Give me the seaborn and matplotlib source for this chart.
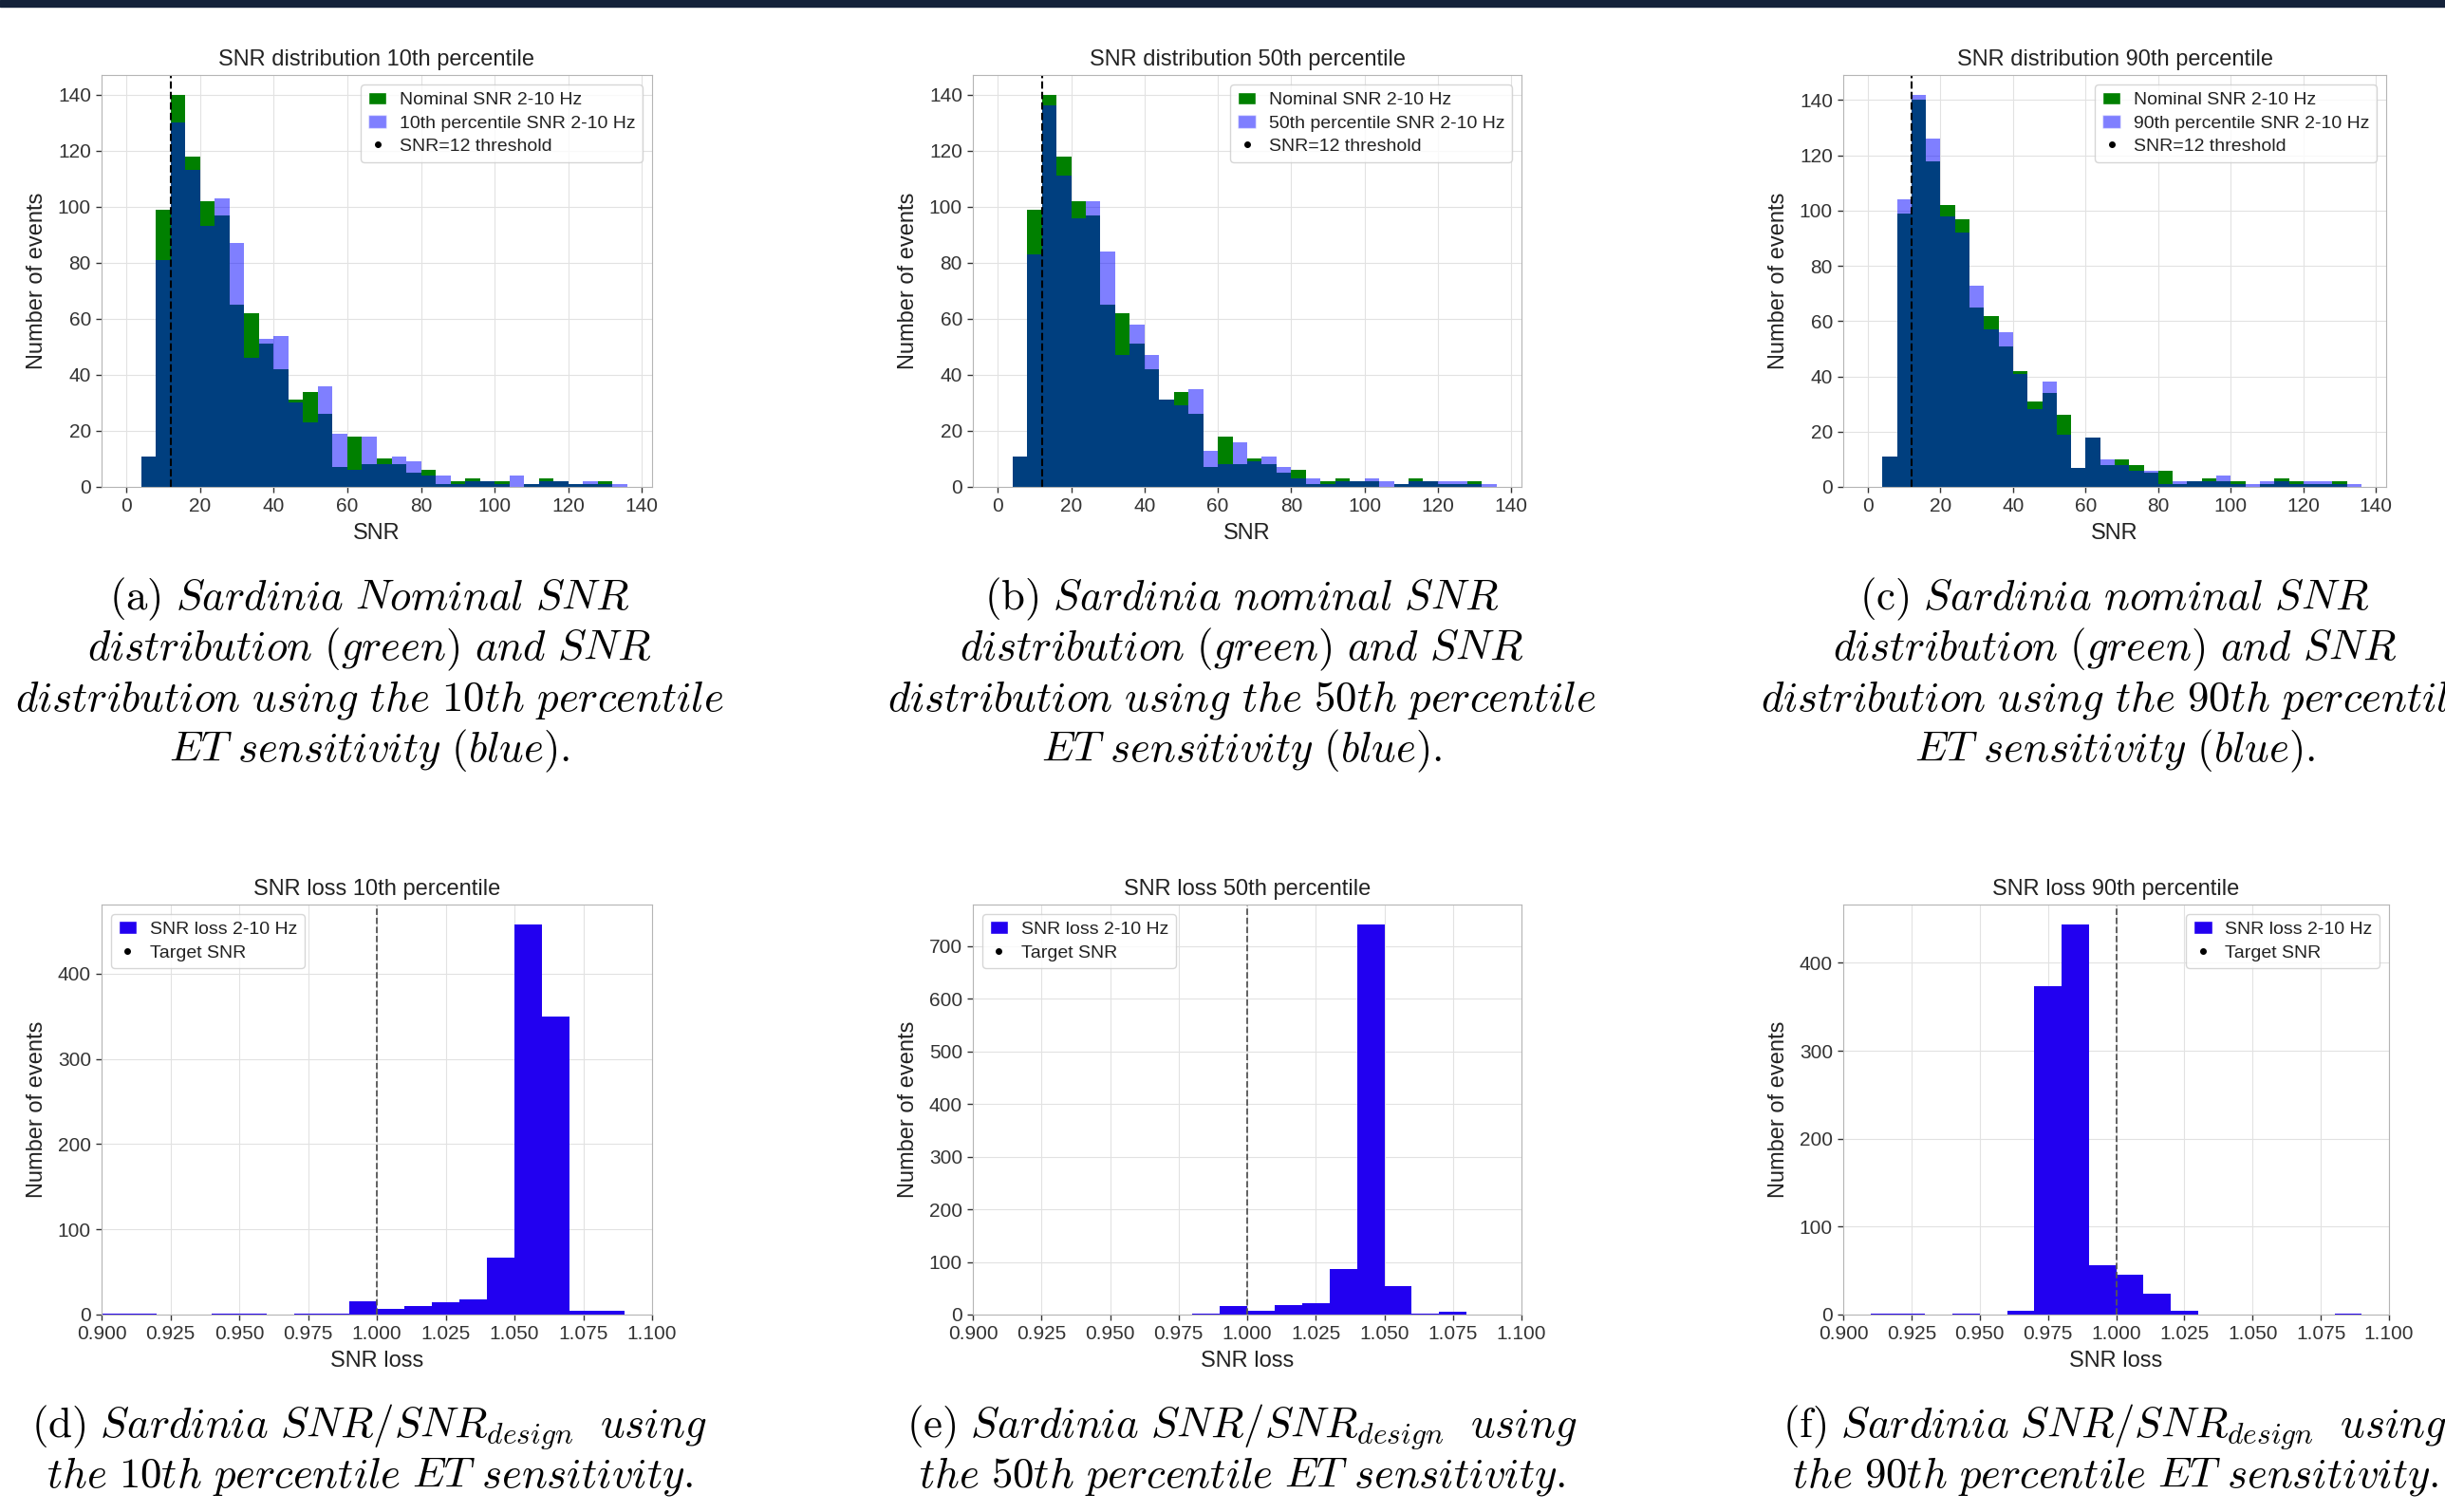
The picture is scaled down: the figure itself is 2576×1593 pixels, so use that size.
import numpy as np
import pandas as pd
import matplotlib
matplotlib.use("Agg")
import matplotlib.pyplot as plt
import seaborn as sns
from matplotlib.patches import Patch, Rectangle
from matplotlib.lines import Line2D

# ---- SNR histograms: counts per 4-wide bin, 0..136 ----
snr_edges = list(range(0, 137, 4))
snr_nominal = [0, 11, 99, 140, 118, 102, 97, 65, 62, 51, 42, 31, 34, 26, 7, 18, 8,
               10, 8, 5, 6, 1, 2, 3, 2, 2, 0, 1, 3, 2, 1, 1, 2, 0]
snr_p10 = [0, 11, 81, 130, 113, 93, 103, 87, 46, 53, 54, 30, 23, 36, 19, 6, 18,
           8, 11, 9, 4, 4, 1, 2, 2, 1, 4, 1, 2, 2, 1, 2, 1, 1]
snr_p50 = [0, 11, 83, 136, 111, 96, 102, 84, 47, 58, 47, 31, 29, 35, 13, 8, 16,
           9, 11, 7, 3, 3, 1, 2, 2, 3, 2, 1, 2, 2, 2, 2, 1, 1]
snr_p90 = [0, 11, 104, 142, 126, 98, 92, 73, 57, 56, 41, 28, 38, 19, 7, 18, 10,
           8, 6, 6, 1, 2, 2, 2, 4, 1, 1, 2, 2, 1, 2, 2, 1, 1]

# ---- SNR loss histograms: counts per 0.01-wide bin, 0.90..1.10 ----
loss_edges = [round(0.90 + 0.01 * k, 3) for k in range(21)]
loss_p10 = [1, 1, 0, 0, 1, 1, 0, 1, 1, 16, 7, 10, 14, 18, 67, 458, 349, 5, 4, 0]
loss_p50 = [0, 0, 0, 0, 0, 0, 0, 0, 2, 16, 7, 18, 21, 87, 742, 54, 2, 5, 0, 0]
loss_p90 = [0, 1, 1, 0, 1, 0, 4, 373, 444, 56, 45, 24, 4, 0, 0, 0, 0, 0, 1, 0]

percentiles = ["10th", "50th", "90th"]
snr_percentile_counts = [snr_p10, snr_p50, snr_p90]
loss_counts = [loss_p10, loss_p50, loss_p90]
snr_threshold = 12
target_ratio = 1.0

captions_top = [
    [r"$\mathrm{(a)}\ \mathit{Sardinia\ Nominal\ SNR}$",
     r"$\mathit{distribution\ (green)\ and\ SNR}$",
     r"$\mathit{distribution\ using\ the\ 10th\ percentile}$",
     r"$\mathit{ET\ sensitivity\ (blue).}$"],
    [r"$\mathrm{(b)}\ \mathit{Sardinia\ nominal\ SNR}$",
     r"$\mathit{distribution\ (green)\ and\ SNR}$",
     r"$\mathit{distribution\ using\ the\ 50th\ percentile}$",
     r"$\mathit{ET\ sensitivity\ (blue).}$"],
    [r"$\mathrm{(c)}\ \mathit{Sardinia\ nominal\ SNR}$",
     r"$\mathit{distribution\ (green)\ and\ SNR}$",
     r"$\mathit{distribution\ using\ the\ 90th\ percentile}$",
     r"$\mathit{ET\ sensitivity\ (blue).}$"],
]
captions_bottom = [
    [r"$\mathrm{(d)}\ \mathit{Sardinia\ SNR/SNR_{design}\ \ using}$",
     r"$\mathit{the\ 10th\ percentile\ ET\ sensitivity.}$"],
    [r"$\mathrm{(e)}\ \mathit{Sardinia\ SNR/SNR_{design}\ \ using}$",
     r"$\mathit{the\ 50th\ percentile\ ET\ sensitivity.}$"],
    [r"$\mathrm{(f)}\ \mathit{Sardinia\ SNR/SNR_{design}\ \ using}$",
     r"$\mathit{the\ 90th\ percentile\ ET\ sensitivity.}$"],
]

sns.set_style("whitegrid", {
    "axes.edgecolor": "#b5b5b5",
    "grid.color": "#e2e2e2",
    "xtick.bottom": True,
    "ytick.left": True,
    "xtick.color": "#333333",
    "ytick.color": "#333333",
    "axes.labelcolor": "#222222",
    "text.color": "#222222",
})
plt.rcParams["font.family"] = ["Liberation Sans", "DejaVu Sans"]
plt.rcParams["mathtext.fontset"] = "cm"
plt.rcParams["xtick.major.size"] = 4
plt.rcParams["ytick.major.size"] = 4
plt.rcParams["xtick.major.width"] = 1.0
plt.rcParams["ytick.major.width"] = 1.0

W, H = 2576, 1593
fig = plt.figure(figsize=(W / 100, H / 100), dpi=100)

# thin dark band along the top edge
fig.patches.append(Rectangle((0, 1 - 7 / H), 1, 7 / H, transform=fig.transFigure,
                             color="#14223a", zorder=0))

TITLE_FS = 17
LABEL_FS = 17
TICK_FS = 15
LEG_FS = 14

col_left = [107, 1025, 1942]
col_width = [580, 578, 572]
top_y0, top_y1 = 79, 513
bot_y0, bot_y1 = 953, 1385


def px_axes(x0, w, y0, y1):
    return fig.add_axes([x0 / W, 1 - y1 / H, w / W, (y1 - y0) / H])


snr_centers = [(a + b) / 2 for a, b in zip(snr_edges[:-1], snr_edges[1:])]
loss_centers = [(a + b) / 2 for a, b in zip(loss_edges[:-1], loss_edges[1:])]

for i, pct in enumerate(percentiles):
    snr_df = pd.DataFrame({"snr": snr_centers,
                           "nominal": snr_nominal,
                           "percentile": snr_percentile_counts[i]})
    loss_df = pd.DataFrame({"loss": loss_centers, "count": loss_counts[i]})

    # ---- SNR distribution ----
    ax = px_axes(col_left[i], col_width[i], top_y0, top_y1)
    sns.histplot(data=snr_df, x="snr", weights="nominal", bins=snr_edges,
                 color="green", alpha=1.0, linewidth=0, ax=ax)
    sns.histplot(data=snr_df, x="snr", weights="percentile", bins=snr_edges,
                 color="blue", alpha=0.5, linewidth=0, ax=ax)
    ax.axvline(snr_threshold, color="black", linestyle="--", linewidth=1.5)
    ax.set_xticks(np.arange(0, 141, 20))
    ax.set_yticks(np.arange(0, 141, 20))
    ax.set_title(f"SNR distribution {pct} percentile", fontsize=TITLE_FS, pad=7)
    ax.set_xlabel("SNR", fontsize=LABEL_FS, labelpad=6)
    ax.set_ylabel("Number of events", fontsize=LABEL_FS, labelpad=8)
    ax.tick_params(labelsize=TICK_FS, pad=4)
    handles = [Patch(facecolor="green", label="Nominal SNR 2-10 Hz"),
               Patch(facecolor="blue", alpha=0.5, label=f"{pct} percentile SNR 2-10 Hz"),
               Line2D([], [], color="black", marker="o", markersize=4, linestyle="none",
                      label="SNR=12 threshold")]
    ax.legend(handles=handles, loc="upper right", fontsize=LEG_FS, handlelength=1.0,
              handleheight=0.7, handletextpad=0.7, labelspacing=0.35,
              framealpha=0.8, edgecolor="#cccccc")

    # ---- SNR loss ----
    ax2 = px_axes(col_left[i], col_width[i] + (3 if i == 2 else 0), bot_y0, bot_y1)
    sns.histplot(data=loss_df, x="loss", weights="count", bins=loss_edges,
                 color="#2200f0", alpha=1.0, linewidth=0, ax=ax2)
    ax2.axvline(target_ratio, color="#555555", linestyle="--", linewidth=1.3)
    ax2.set_xlim(0.9, 1.1)
    tick_vals = np.arange(0.9, 1.1001, 0.025)
    ax2.set_xticks(tick_vals)
    ax2.set_xticklabels([f"{v:.3f}" for v in tick_vals])
    ax2.set_title(f"SNR loss {pct} percentile", fontsize=TITLE_FS, pad=7)
    ax2.set_xlabel("SNR loss", fontsize=LABEL_FS, labelpad=6)
    ax2.set_ylabel("Number of events", fontsize=LABEL_FS, labelpad=8)
    ax2.tick_params(labelsize=TICK_FS, pad=4)
    handles2 = [Patch(facecolor="#2200f0", label="SNR loss 2-10 Hz"),
                Line2D([], [], color="black", marker="o", markersize=4, linestyle="none",
                       label="Target SNR")]
    ax2.legend(handles=handles2, loc="upper right" if i == 2 else "upper left",
               fontsize=LEG_FS, handlelength=1.0, handleheight=0.7, handletextpad=0.7,
               labelspacing=0.35, framealpha=0.8, edgecolor="#cccccc")

# ---- captions ----
CAP_FS = 32.3
cap_cx = [389, 1308, 2228]
top_base = [642, 695, 749, 802]
bot_base = [1513, 1566]
for i in range(3):
    for line, yb in zip(captions_top[i], top_base):
        fig.text(cap_cx[i] / W, 1 - yb / H, line, ha="center", va="baseline",
                 fontsize=CAP_FS, color="black")
    for line, yb in zip(captions_bottom[i], bot_base):
        fig.text(cap_cx[i] / W, 1 - yb / H, line, ha="center", va="baseline",
                 fontsize=CAP_FS, color="black")

fig.savefig("out.png", dpi=100, facecolor="white")
